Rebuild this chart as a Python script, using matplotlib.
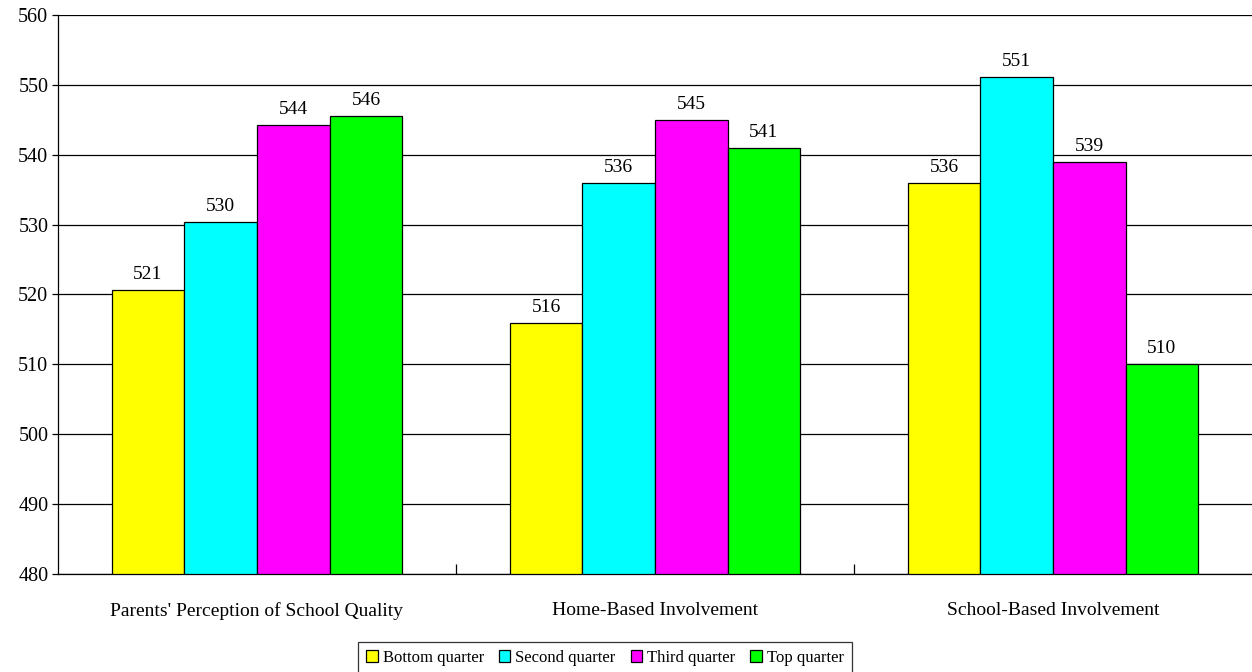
import matplotlib
matplotlib.use("Agg")
import matplotlib.pyplot as plt
import numpy as np

plt.rcParams['font.family'] = ['Liberation Serif', 'DejaVu Serif']

categories = ["Parents' Perception of School Quality",
              "Home-Based Involvement",
              "School-Based Involvement"]
series = ["Bottom quarter", "Second quarter", "Third quarter", "Top quarter"]
bottom_q = [520.6, 515.9, 536.0]
second_q = [530.4, 536.0, 551.1]
third_q = [544.2, 545.0, 539.0]
top_q = [545.6, 541.0, 510.0]
colors = ["#FFFF00", "#00FFFF", "#FF00FF", "#00FF00"]

values = [bottom_q, second_q, third_q, top_q]

fig = plt.figure(figsize=(12.52, 6.72), dpi=100)
ax = fig.add_axes([58/1252, 1-574/672, 1-58/1252, (574-15)/672])

x = np.arange(len(categories))
w = 0.73 / 4
for i, (name, vals) in enumerate(zip(series, values)):
    pos = x - 0.365 + w*(i + 0.5)
    ax.bar(pos, np.array(vals) - 480, bottom=480, width=w, color=colors[i],
           edgecolor='black', linewidth=0.9, label=name, zorder=3)
    for p, v in zip(pos, vals):
        ax.text(p, v + 1.0, f"{v:.0f}", ha='center', va='bottom', fontsize=14)

ax.set_xlim(-0.5, 2.5)
ax.set_ylim(480, 560)
ax.set_yticks(np.arange(480, 561, 10))
ax.yaxis.grid(True, color='black', linewidth=0.9, zorder=0)
ax.set_axisbelow(True)
ax.tick_params(axis='y', labelsize=14.5, length=4, direction='out', width=0.9, pad=3)
ax.set_xticks([0.5, 1.5], minor=False)
ax.set_xticklabels([])
ax.tick_params(axis='x', which='major', direction='in', length=7, width=0.9)
ax.set_xticks(x, minor=True)
ax.set_xticklabels(categories, minor=True, fontsize=14)
ax.tick_params(axis='x', which='minor', length=0, pad=20)
for s in ['top', 'right']:
    ax.spines[s].set_visible(False)
ax.spines['left'].set_linewidth(0.9)
ax.spines['bottom'].set_linewidth(0.9)

leg = fig.legend(loc='lower center', bbox_to_anchor=(605/1252, -0.014), ncol=4,
                 fontsize=12, frameon=True, fancybox=False, handlelength=0.7,
                 handleheight=0.7, handletextpad=0.3, columnspacing=0.9,
                 borderpad=0.45)
leg.get_frame().set_edgecolor('black')
leg.get_frame().set_linewidth(0.9)

fig.savefig("out.png", dpi=100)
